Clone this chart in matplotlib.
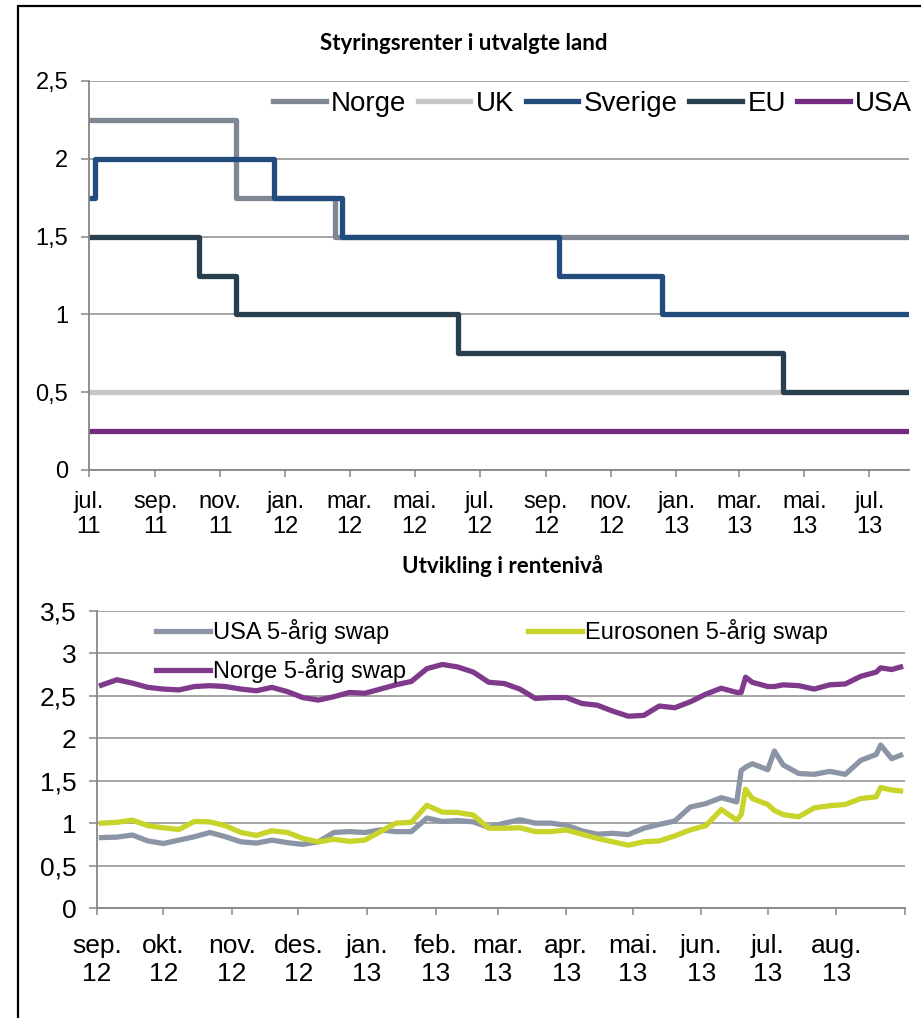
import matplotlib
matplotlib.use('Agg')
import matplotlib.pyplot as plt
import pandas as pd
import numpy as np
from matplotlib.patches import Rectangle

plt.rcParams['font.family'] = ['Liberation Sans', 'DejaVu Sans']

# ── Data: styringsrenter (trinnvise endringer) ───────────────────────────────
norge_dates   = ['2011-07-01', '2011-11-16', '2012-02-16', '2013-08-07']
norge_vals    = [2.25, 1.75, 1.5, 1.5]
uk_dates      = ['2011-07-01', '2013-08-07']
uk_vals       = [0.5, 0.5]
sverige_dates = ['2011-07-01', '2011-07-07', '2011-12-21', '2012-02-23',
                 '2012-09-13', '2012-12-19', '2013-08-07']
sverige_vals  = [1.75, 2.0, 1.75, 1.5, 1.25, 1.0, 1.0]
eu_dates      = ['2011-07-01', '2011-10-12', '2011-11-16', '2012-06-11',
                 '2013-04-11', '2013-08-07']
eu_vals       = [1.5, 1.25, 1.0, 0.75, 0.5, 0.5]
usa_dates     = ['2011-07-01', '2013-08-07']
usa_vals      = [0.25, 0.25]

top_ticks  = ['2011-07-01', '2011-09-01', '2011-11-01', '2012-01-01', '2012-03-01',
              '2012-05-01', '2012-07-01', '2012-09-01', '2012-11-01', '2013-01-01',
              '2013-03-01', '2013-05-01', '2013-07-01']
top_labels = ['jul.\n11', 'sep.\n11', 'nov.\n11', 'jan.\n12', 'mar.\n12', 'mai.\n12',
              'jul.\n12', 'sep.\n12', 'nov.\n12', 'jan.\n13', 'mar.\n13', 'mai.\n13',
              'jul.\n13']

# ── Data: 5-årige swaprenter (avlest omtrent ukentlig) ───────────────────────
swap_dates = (list(pd.date_range('2012-09-03', '2013-06-17', freq='7D')) +
              list(pd.to_datetime(['2013-06-19', '2013-06-21', '2013-06-24', '2013-07-01',
                                   '2013-07-04', '2013-07-08', '2013-07-15', '2013-07-22',
                                   '2013-07-29', '2013-08-05', '2013-08-12', '2013-08-19',
                                   '2013-08-21', '2013-08-26', '2013-08-30'])))
usa_swap = [0.83, 0.835, 0.86, 0.79, 0.76, 0.80, 0.84, 0.89, 0.84, 0.78,
            0.765, 0.80, 0.77, 0.75, 0.78, 0.89, 0.90, 0.89, 0.92, 0.90,
            0.90, 1.06, 1.02, 1.03, 1.015, 0.95, 1.00, 1.04, 1.00, 1.00,
            0.975, 0.91, 0.87, 0.88, 0.865, 0.94, 0.985, 1.025, 1.19, 1.23,
            1.30, 1.25,
            1.62, 1.66, 1.70, 1.63, 1.85, 1.685, 1.585, 1.575, 1.61, 1.575,
            1.74, 1.81, 1.92, 1.76, 1.80]
euro_swap = [1.00, 1.01, 1.035, 0.97, 0.945, 0.925, 1.02, 1.015, 0.97, 0.89,
             0.855, 0.91, 0.89, 0.82, 0.78, 0.81, 0.785, 0.80, 0.90, 1.00,
             1.01, 1.21, 1.13, 1.125, 1.095, 0.94, 0.94, 0.945, 0.90, 0.90,
             0.92, 0.87, 0.82, 0.78, 0.74, 0.78, 0.79, 0.85, 0.92, 0.97,
             1.16, 1.035,
             1.10, 1.40, 1.29, 1.22, 1.15, 1.10, 1.075, 1.18, 1.205, 1.22,
             1.29, 1.31, 1.42, 1.39, 1.38]
norge_swap = [2.626, 2.69, 2.65, 2.60, 2.58, 2.57, 2.61, 2.62, 2.61, 2.58,
              2.56, 2.60, 2.55, 2.48, 2.45, 2.49, 2.54, 2.53, 2.58, 2.63,
              2.67, 2.82, 2.87, 2.84, 2.78, 2.66, 2.645, 2.58, 2.47, 2.48,
              2.48, 2.41, 2.39, 2.32, 2.26, 2.27, 2.38, 2.36, 2.43, 2.52,
              2.59, 2.54,
              2.54, 2.72, 2.66, 2.61, 2.61, 2.63, 2.62, 2.58, 2.63, 2.64,
              2.73, 2.78, 2.83, 2.81, 2.84]

bot_ticks  = ['2012-09-01', '2012-10-01', '2012-11-01', '2012-12-01', '2013-01-01',
              '2013-02-01', '2013-03-01', '2013-04-01', '2013-05-01', '2013-06-01',
              '2013-07-01', '2013-08-01', '2013-09-01']
bot_labels = ['sep.\n12', 'okt.\n12', 'nov.\n12', 'des.\n12', 'jan.\n13', 'feb.\n13',
              'mar.\n13', 'apr.\n13', 'mai.\n13', 'jun.\n13', 'jul.\n13', 'aug.\n13', '']

GRID  = '#8C8C8C'
SPINE = '#868686'


def style_axes(ax, ymax, ystep, fs_tick, ticks, labels, xlim, xpad):
    ax.set_ylim(0, ymax)
    yt = np.arange(0, ymax + 0.001, ystep)
    ax.set_yticks(yt)
    ax.set_yticklabels([f'{v:g}'.replace('.', ',') for v in yt], fontsize=fs_tick)
    ax.set_xticks(pd.to_datetime(ticks))
    ax.set_xticklabels(labels, fontsize=fs_tick, linespacing=1.2)
    ax.set_xlim(pd.to_datetime(xlim[0]), pd.to_datetime(xlim[1]))
    ax.grid(axis='y', color=GRID, lw=1.1)
    ax.set_axisbelow(True)
    for s in ['top', 'right']:
        ax.spines[s].set_visible(False)
    for s in ['left', 'bottom']:
        ax.spines[s].set_color(SPINE)
        ax.spines[s].set_linewidth(1.3)
    ax.tick_params(axis='y', length=6, color=SPINE, width=1.1, pad=9)
    ax.tick_params(axis='x', length=5, color=SPINE, width=1.1, pad=xpad)


fig = plt.figure(figsize=(9.21, 10.18), dpi=100)
# ramme (bare venstre og øvre kant er synlige i bildet)
fig.patches.append(Rectangle((18 / 921, -0.02), 1.0, 1 - 6 / 1018 + 0.02,
                             transform=fig.transFigure, fill=False,
                             edgecolor='black', lw=1.6))

# ── Øverste figur ────────────────────────────────────────────────────────────
ax1 = fig.add_axes([89 / 921, 1 - 470 / 1018, 820 / 921, 389 / 1018])
series_top = [('Norge', norge_dates, norge_vals, '#7F8694'),
              ('UK', uk_dates, uk_vals, '#C6C6C6'),
              ('Sverige', sverige_dates, sverige_vals, '#224C7C'),
              ('EU', eu_dates, eu_vals, '#283F4D'),
              ('USA', usa_dates, usa_vals, '#722C7E')]
for name, d, v, c in series_top:
    ax1.step(pd.to_datetime(d), v, where='post', color=c, lw=3.8, label=name)
style_axes(ax1, 2.5, 0.5, 17, top_ticks, top_labels, ('2011-07-01', '2013-08-07'), 10)
ax1.legend(loc='center right', bbox_to_anchor=(1.004, (470 - 104) / 389), ncol=5,
           frameon=False, fontsize=20, handlelength=1.9, handletextpad=0.2,
           columnspacing=0.4, borderaxespad=0, borderpad=0)
fig.text(464 / 921, 1 - 43 / 1018, 'Styringsrenter i utvalgte land', ha='center',
         va='center', fontsize=16, fontweight='bold', family=['Lato', 'DejaVu Sans'])

# ── Nederste figur ───────────────────────────────────────────────────────────
ax2 = fig.add_axes([97 / 921, 1 - 908 / 1018, 808 / 921, 297 / 1018])
l_usa, = ax2.plot(swap_dates, usa_swap, color='#8C95A5', lw=3.8, label='USA 5-årig swap')
l_eur, = ax2.plot(swap_dates, euro_swap, color='#C8D42A', lw=3.8, label='Eurosonen 5-årig swap')
l_nor, = ax2.plot(swap_dates, norge_swap, color='#7F3A8C', lw=3.8, label='Norge 5-årig swap')
style_axes(ax2, 3.5, 0.5, 19, bot_ticks, bot_labels, ('2012-09-01', '2013-09-01'), 14)
ax2.legend(handles=[l_usa, l_nor, l_eur], loc='upper left',
           bbox_to_anchor=((156 - 97) / 808, (908 - 619) / 297), ncol=2, frameon=False,
           fontsize=17, handlelength=2.3, handletextpad=0.12, columnspacing=5.15,
           labelspacing=0.6, borderaxespad=0, borderpad=0)
fig.text(502 / 921, 1 - 566 / 1018, 'Utvikling i rentenivå', ha='center',
         va='center', fontsize=16, fontweight='bold', family=['Lato', 'DejaVu Sans'])

fig.savefig('out.png', dpi=100)
